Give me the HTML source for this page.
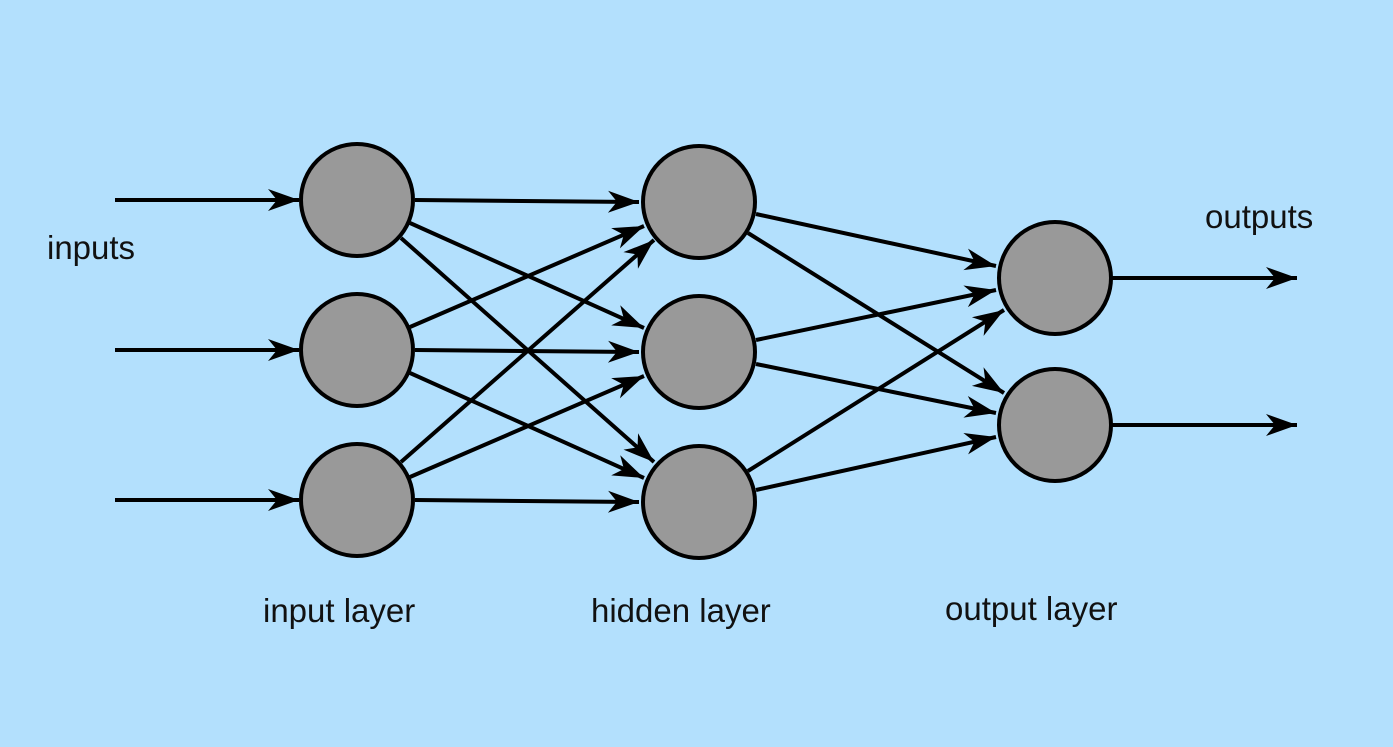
<!DOCTYPE html>
<html><head><meta charset="utf-8"><style>
html,body{margin:0;padding:0;background:#b3e0fd;}
svg{display:block;}
text{font-family:"Liberation Sans",sans-serif;font-size:33px;fill:#111;}
</style></head><body>
<svg width="1393" height="747" viewBox="0 0 1393 747" xmlns="http://www.w3.org/2000/svg">
<defs>
<marker id="a" markerUnits="userSpaceOnUse" viewBox="-32 -12 34 24" refX="0" refY="0" markerWidth="34" markerHeight="24" orient="auto">
<path d="M0,0 L-31,-11 L-22,0 L-31,11 Z" fill="#000"/>
</marker>
</defs>
<rect width="1393" height="747" fill="#b3e0fd"/>
<g stroke="#000" stroke-width="4" marker-end="url(#a)" fill="none">
<line x1="115" y1="200" x2="299" y2="200"/>
<line x1="115" y1="350" x2="299" y2="350"/>
<line x1="115" y1="500" x2="299" y2="500"/>
<line x1="415" y1="200" x2="639" y2="202"/>
<line x1="410" y1="223" x2="644" y2="328"/>
<line x1="401" y1="238" x2="654" y2="462"/>
<line x1="410" y1="327" x2="644" y2="226"/>
<line x1="415" y1="350" x2="639" y2="352"/>
<line x1="410" y1="373" x2="644" y2="478"/>
<line x1="401" y1="462" x2="654" y2="240"/>
<line x1="410" y1="477" x2="644" y2="376"/>
<line x1="415" y1="500" x2="639" y2="502"/>
<line x1="756" y1="214" x2="996" y2="266"/>
<line x1="748" y1="233" x2="1004" y2="393"/>
<line x1="756" y1="340" x2="996" y2="290"/>
<line x1="756" y1="364" x2="996" y2="413"/>
<line x1="748" y1="471" x2="1004" y2="310"/>
<line x1="756" y1="490" x2="996" y2="437"/>
<line x1="1112" y1="278" x2="1297" y2="278"/>
<line x1="1112" y1="425" x2="1297" y2="425"/>
</g>
<g fill="#999" stroke="#000" stroke-width="4">
<circle cx="357" cy="200" r="56"/>
<circle cx="357" cy="350" r="56"/>
<circle cx="357" cy="500" r="56"/>
<circle cx="699" cy="202" r="56"/>
<circle cx="699" cy="352" r="56"/>
<circle cx="699" cy="502" r="56"/>
<circle cx="1055" cy="278" r="56"/>
<circle cx="1055" cy="425" r="56"/>
</g>
<text x="47" y="259">inputs</text>
<text x="1205" y="228">outputs</text>
<text x="263" y="622">input layer</text>
<text x="591" y="622">hidden layer</text>
<text x="945" y="620">output layer</text>
</svg>
</body></html>
